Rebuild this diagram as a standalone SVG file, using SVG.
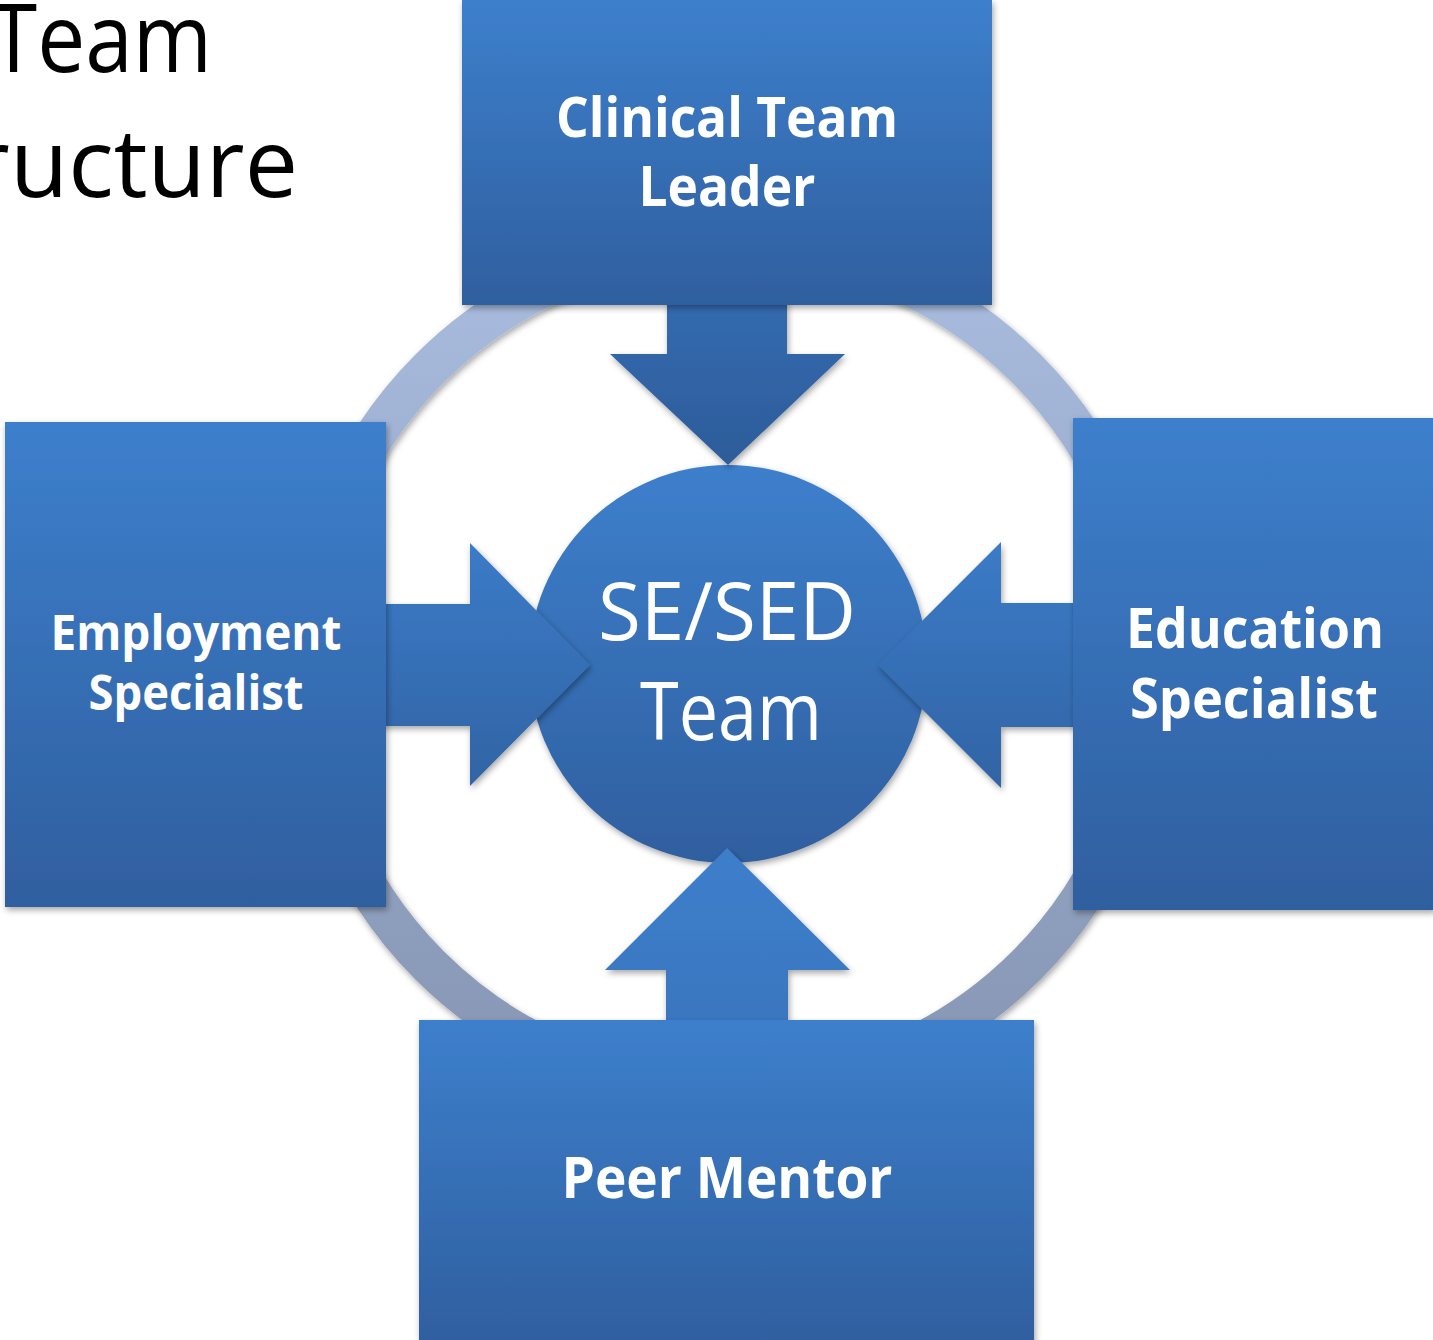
<svg xmlns="http://www.w3.org/2000/svg" width="1433" height="1340" viewBox="0 0 1433 1340">
  <defs>
    <linearGradient id="gBox" x1="0" y1="0" x2="0" y2="1">
      <stop offset="0" stop-color="#3d7fcc"/>
      <stop offset="1" stop-color="#2f5f9f"/>
    </linearGradient>
    <linearGradient id="gRing" gradientUnits="userSpaceOnUse" x1="0" y1="244" x2="0" y2="1088">
      <stop offset="0" stop-color="#a9bcdf"/>
      <stop offset="1" stop-color="#8696b3"/>
    </linearGradient>
    <linearGradient id="gTopArrow" gradientUnits="userSpaceOnUse" x1="0" y1="150" x2="0" y2="465">
      <stop offset="0" stop-color="#3a78c5"/>
      <stop offset="1" stop-color="#2d5c99"/>
    </linearGradient>
    <linearGradient id="gSideArrow" x1="0" y1="0" x2="0" y2="1">
      <stop offset="0" stop-color="#3b7bc8"/>
      <stop offset="1" stop-color="#3164a4"/>
    </linearGradient>
    <linearGradient id="gBotArrow" gradientUnits="userSpaceOnUse" x1="0" y1="848" x2="0" y2="1180">
      <stop offset="0" stop-color="#3d7ecb"/>
      <stop offset="1" stop-color="#3770b6"/>
    </linearGradient>
    <filter id="sh" x="-10%" y="-10%" width="120%" height="125%">
      <feDropShadow dx="1.5" dy="3" stdDeviation="3" flood-color="#000" flood-opacity="0.35"/>
    </filter>
  </defs>
  <style>
    .lbl { font-family: "Open Sans", "Liberation Sans", sans-serif; font-weight: bold; fill: #ffffff; text-anchor: middle; }
    .ctr { font-family: "Open Sans", "Liberation Sans", sans-serif; font-weight: normal; fill: #ffffff; text-anchor: middle; }
    .title { font-family: "Open Sans", "Liberation Sans", sans-serif; fill: #000000; text-anchor: end; }
    .box { fill: url(#gBox); filter: url(#sh); }
  </style>

  <rect width="1433" height="1340" fill="#ffffff"/>

  <g id="title">
    <text class="title" x="212" y="72" font-size="95" textLength="222" lengthAdjust="spacingAndGlyphs">Team</text>
    <text class="title" x="298" y="197" font-size="95">ructure</text>
  </g>

  <g id="ring">
    <circle cx="728" cy="667" r="422" fill="none" stroke="url(#gRing)" stroke-width="40" filter="url(#sh)"/>
  </g>

  <g id="center">
    <circle cx="728" cy="664" r="199" fill="url(#gBox)" filter="url(#sh)"/>
    <text class="ctr" x="727" y="640" font-size="80" textLength="258" lengthAdjust="spacingAndGlyphs">SE/SED</text>
    <text class="ctr" x="731" y="740" font-size="80" textLength="182" lengthAdjust="spacingAndGlyphs">Team</text>
  </g>

  <g id="connectors" filter="url(#sh)">
    <polygon fill="url(#gTopArrow)" points="667,300 787,300 787,354 845,354 728,465 610,354 667,354"/>
    <polygon fill="url(#gSideArrow)" points="380,604 470,604 470,543 590,665 470,786 470,726 380,726"/>
    <polygon fill="url(#gSideArrow)" points="1078,603 1001,603 1001,542 878,665 1001,788 1001,727 1078,727"/>
    <polygon fill="url(#gBotArrow)" points="666,1025 666,970 605,970 727,848 850,970 788,970 788,1025"/>
  </g>

  <g id="clinical-team-leader">
    <rect class="box" x="462" y="0" width="530" height="305"/>
    <text class="lbl" x="727" y="137" font-size="56" textLength="342" lengthAdjust="spacingAndGlyphs">Clinical Team</text>
    <text class="lbl" x="727" y="206" font-size="56" textLength="177" lengthAdjust="spacingAndGlyphs">Leader</text>
  </g>

  <g id="employment-specialist">
    <rect class="box" x="5" y="422" width="381" height="485"/>
    <text class="lbl" x="196" y="650" font-size="48" textLength="291" lengthAdjust="spacingAndGlyphs">Employment</text>
    <text class="lbl" x="196" y="710" font-size="48" textLength="215" lengthAdjust="spacingAndGlyphs">Specialist</text>
  </g>

  <g id="education-specialist">
    <rect class="box" x="1073" y="418" width="362" height="492"/>
    <text class="lbl" x="1255" y="648" font-size="55" textLength="258" lengthAdjust="spacingAndGlyphs">Education</text>
    <text class="lbl" x="1254" y="718" font-size="55" textLength="248" lengthAdjust="spacingAndGlyphs">Specialist</text>
  </g>

  <g id="peer-mentor">
    <rect class="box" x="419" y="1020" width="615" height="325"/>
    <text class="lbl" x="727" y="1198" font-size="57" textLength="331" lengthAdjust="spacingAndGlyphs">Peer Mentor</text>
  </g>
</svg>
